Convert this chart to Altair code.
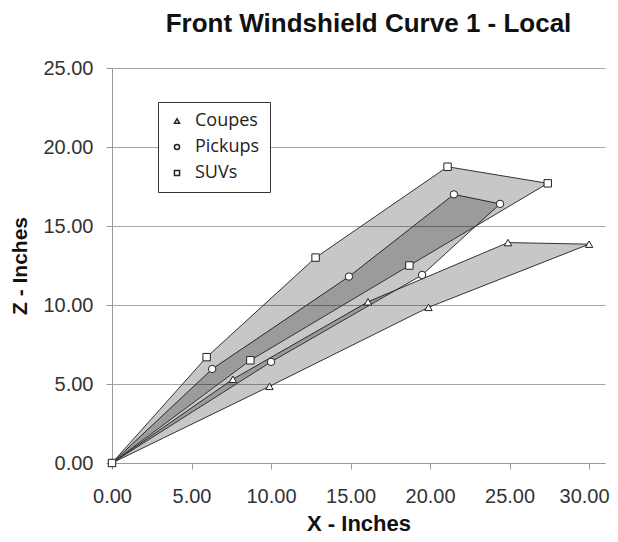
import altair as alt
import pandas as pd

series_names = ["Coupes", "Pickups", "SUVs"]

coupes_x = [0.0, 7.6, 16.1, 24.9, 30.0, 19.9, 9.9, 0.0]
coupes_z = [0.0, 5.3, 10.2, 13.95, 13.85, 9.85, 4.85, 0.0]
pickups_x = [0.0, 6.3, 14.9, 21.5, 24.4, 19.5, 10.0, 0.0]
pickups_z = [0.0, 5.95, 11.8, 17.0, 16.4, 11.9, 6.4, 0.0]
suvs_x = [0.0, 5.95, 12.8, 21.1, 27.4, 18.7, 8.7, 0.0]
suvs_z = [0.0, 6.7, 13.0, 18.75, 17.7, 12.5, 6.5, 0.0]

x_ticks = [0, 5, 10, 15, 20, 25, 30]
y_ticks = [0, 5, 10, 15, 20, 25]

rows = []
for name, xs, zs in zip(series_names, [coupes_x, pickups_x, suvs_x], [coupes_z, pickups_z, suvs_z]):
    for i, (x, z) in enumerate(zip(xs, zs)):
        rows.append({"series": name, "idx": i, "x": x, "z": z, "last": i == len(xs) - 1})
df = pd.DataFrame(rows)

FONT = "Liberation Sans"

x_enc = alt.X("x:Q", scale=alt.Scale(domain=[0, 31], nice=False, zero=False),
              axis=alt.Axis(values=x_ticks, format=".2f", title="X -  Inches", grid=False,
                            tickSize=6, labelPadding=17, titlePadding=7, labelFlush=False,
                            labelOffset=alt.condition("datum.value == 30", alt.value(-5), alt.value(0))))
y_enc = alt.Y("z:Q", scale=alt.Scale(domain=[0, 25], nice=False),
              axis=alt.Axis(values=y_ticks, format=".2f", title="Z - Inches", grid=True,
                            tickSize=6, labelPadding=13, titlePadding=12, labelFlush=False))

polys = alt.Chart(df).mark_line(
    fill="black", fillOpacity=0.22, stroke="#333333", strokeWidth=1
).encode(
    x=x_enc, y=y_enc,
    detail="series:N",
    order=alt.Order("idx:Q"),
)

points = alt.Chart(df).transform_filter("!datum.last").mark_point(
    filled=True, fill="white", stroke="#222222", strokeWidth=1, size=55, opacity=1
).encode(
    x="x:Q", y="z:Q",
    shape=alt.Shape("series:N",
                    scale=alt.Scale(domain=series_names, range=["triangle-up", "circle", "square"]),
                    legend=alt.Legend(title=None, orient="none", legendX=46, legendY=34,
                                      fillColor="white", strokeColor="#333333",
                                      padding=10, rowPadding=8, symbolSize=26,
                                      labelFont="Open Sans", labelFontSize=18,
                                      labelColor="#222222", labelOffset=9)),
)

chart = alt.layer(polys, points).properties(
    width=493, height=395,
    title=alt.TitleParams("Front Windshield Curve 1 - Local", fontSize=26, font=FONT,
                          fontWeight="bold", color="#111111", anchor="middle", dx=10, offset=21),
    autosize=alt.AutoSizeParams(type="none"),
    padding={"left": 104, "top": 60, "right": 5, "bottom": 71},
).configure_view(stroke=None).configure_axis(
    labelFont=FONT, labelFontSize=20, labelColor="#333333",
    titleFont=FONT, titleFontSize=22, titleFontWeight="bold", titleColor="#111111",
    domainColor="#999999", tickColor="#999999", gridColor="#a6a6a6", gridWidth=1,
).configure_axisY(titleFontSize=21)

chart.save("out.html", embed_options={"renderer": "svg", "actions": False})
